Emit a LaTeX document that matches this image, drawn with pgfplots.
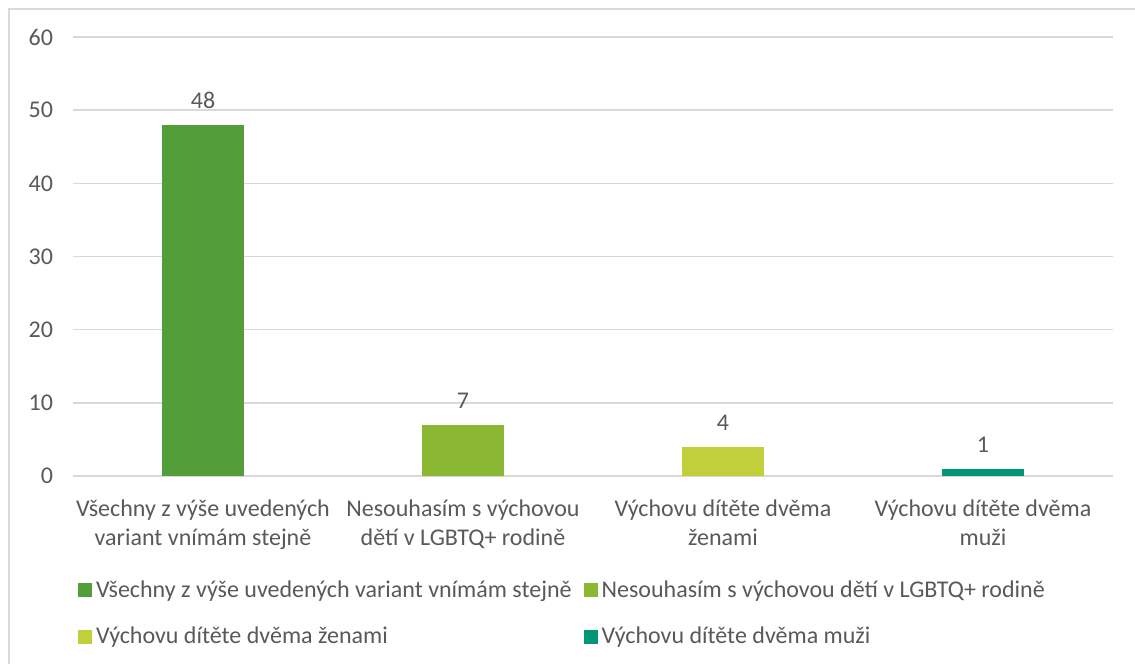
\documentclass[border=0pt]{standalone}
\usepackage{fontspec}
\setmainfont{Carlito}
\usepackage{pgfplots}
\pgfplotsset{compat=1.18}
\definecolor{cA}{HTML}{549E39}
\definecolor{cB}{HTML}{8AB833}
\definecolor{cC}{HTML}{C0CF3A}
\definecolor{cD}{HTML}{029676}
\definecolor{txt}{HTML}{595959}
\definecolor{grd}{HTML}{D9D9D9}
\newcommand{\chfont}{\fontsize{12}{14}\selectfont}
\begin{document}
\begin{tikzpicture}[x=1pt,y=1pt]
\path[use as bounding box] (0,0) rectangle (567.5,332);
\draw[grd, line width=0.6pt] (4.5,0) -- (4.5,327.5) -- (567.5,327.5);
\begin{axis}[
  at={(36.5pt,94pt)}, anchor=south west,
  scale only axis, width=520pt, height=219.5pt,
  xmin=-0.5, xmax=3.5, ymin=0, ymax=60,
  ytick={0,10,20,30,40,50,60},
  xtick={0,1,2,3},
  xticklabels={{Všechny z výše uvedených\\variant vnímám stejně},
               {Nesouhasím s výchovou\\dětí v LGBTQ+ rodině},
               {Výchovu dítěte dvěma\\ženami},
               {Výchovu dítěte dvěma\\muži}},
  ymajorgrids, grid style={grd, line width=0.75pt},
  axis line style={draw=none},
  major tick length=0pt,
  /pgf/number format/assume math mode=true,
  tick label style={font=\chfont, text=txt},
  xticklabel style={align=center, yshift=-8.5pt, font=\fontsize{12}{14.4}\selectfont},
  yticklabel style={xshift=-6.5pt},
  ybar, bar width=41pt, bar shift=0pt,
  nodes near coords,
  every node near coord/.append style={font=\chfont, text=txt, yshift=4.5pt},
  legend image code/.code={\fill[#1] (0pt,-3.5pt) rectangle (7pt,3.5pt);},
  legend columns=2,
  legend cell align=left,
  legend style={at={(-0.0013,-0.2186)}, anchor=north west, draw=none, fill=none,
    font=\chfont, text=txt, row sep=9.5pt,
    /tikz/every even column/.append style={column sep=4pt}},
]
\addplot[fill=cA, draw=none] coordinates {(0,48)};
\addlegendentry{Všechny z výše uvedených variant vnímám stejně}
\addplot[fill=cB, draw=none] coordinates {(1,7)};
\addlegendentry{Nesouhasím s výchovou dětí v LGBTQ+ rodině}
\addplot[fill=cC, draw=none] coordinates {(2,4)};
\addlegendentry{Výchovu dítěte dvěma ženami}
\addplot[fill=cD, draw=none] coordinates {(3,1)};
\addlegendentry{Výchovu dítěte dvěma muži}
\end{axis}
\end{tikzpicture}
\end{document}
